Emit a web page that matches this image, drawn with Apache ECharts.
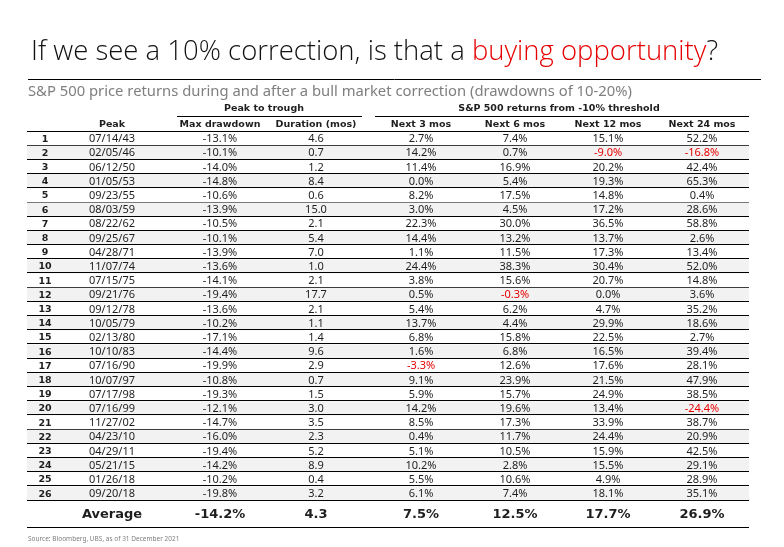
<!DOCTYPE html>
<html lang="en">
<head>
<meta charset="UTF-8">
<title>Buying opportunity</title>
<script src="https://cdn.jsdelivr.net/npm/echarts@6/dist/echarts.min.js"></script>
<style>
  html, body { margin: 0; padding: 0; background: #fff; }
  #container { width: 784px; height: 547px; }
</style>
</head>
<body>
<div id="container"></div>
<script>
var peaks = ['07/14/43', '02/05/46', '06/12/50', '01/05/53', '09/23/55', '08/03/59', '08/22/62', '09/25/67',
  '04/28/71', '11/07/74', '07/15/75', '09/21/76', '09/12/78', '10/05/79', '02/13/80', '10/10/83', '07/16/90',
  '10/07/97', '07/17/98', '07/16/99', '11/27/02', '04/23/10', '04/29/11', '05/21/15', '01/26/18', '09/20/18'];
var maxDrawdown = [-13.1, -10.1, -14.0, -14.8, -10.6, -13.9, -10.5, -10.1, -13.9, -13.6, -14.1, -19.4, -13.6,
  -10.2, -17.1, -14.4, -19.9, -10.8, -19.3, -12.1, -14.7, -16.0, -19.4, -14.2, -10.2, -19.8];
var duration = [4.6, 0.7, 1.2, 8.4, 0.6, 15.0, 2.1, 5.4, 7.0, 1.0, 2.1, 17.7, 2.1, 1.1, 1.4, 9.6, 2.9, 0.7,
  1.5, 3.0, 3.5, 2.3, 5.2, 8.9, 0.4, 3.2];
var next3 = [2.7, 14.2, 11.4, 0.0, 8.2, 3.0, 22.3, 14.4, 1.1, 24.4, 3.8, 0.5, 5.4, 13.7, 6.8, 1.6, -3.3, 9.1,
  5.9, 14.2, 8.5, 0.4, 5.1, 10.2, 5.5, 6.1];
var next6 = [7.4, 0.7, 16.9, 5.4, 17.5, 4.5, 30.0, 13.2, 11.5, 38.3, 15.6, -0.3, 6.2, 4.4, 15.8, 6.8, 12.6, 23.9,
  15.7, 19.6, 17.3, 11.7, 10.5, 2.8, 10.6, 7.4];
var next12 = [15.1, -9.0, 20.2, 19.3, 14.8, 17.2, 36.5, 13.7, 17.3, 30.4, 20.7, 0.0, 4.7, 29.9, 22.5, 16.5, 17.6,
  21.5, 24.9, 13.4, 33.9, 24.4, 15.9, 15.5, 4.9, 18.1];
var next24 = [52.2, -16.8, 42.4, 65.3, 0.4, 28.6, 58.8, 2.6, 13.4, 52.0, 14.8, 3.6, 35.2, 18.6, 2.7, 39.4, 28.1,
  47.9, 38.5, -24.4, 38.7, 20.9, 42.5, 29.1, 28.9, 35.1];
var averages = [-14.2, 4.3, 7.5, 12.5, 17.7, 26.9];
var columnNames = ['Peak', 'Max drawdown', 'Duration (mos)', 'Next 3 mos', 'Next 6 mos', 'Next 12 mos', 'Next 24 mos'];
var groupNames = ['Peak to trough', 'S&P 500 returns from -10% threshold'];

// layout: column centres on a pixel-wide value axis
var colX = [45, 112, 220, 316, 421, 515, 608, 702];
var tableLeft = 27, tableRight = 749;
var rowTop = 131.5, rowH = 14.2;
var ink = '#1e1e1e', red = '#e60000', grey = '#7f7f7f';
var numFont = '11px "Noto Sans"';
var boldFont = 'bold 9.5px "DejaVu Sans"';

var rowIds = peaks.map(function (p, i) { return String(i + 1); });

function pct(v) { return v.toFixed(1) + '%'; }

// one item per cell: [column, row], with text and colour kept beside it
var cells = [];
rowIds.forEach(function (id, i) {
  var returns = [next3[i], next6[i], next12[i], next24[i]];
  cells.push({ value: [0, i], text: id, font: boldFont, color: ink });
  cells.push({ value: [1, i], text: peaks[i], font: numFont, color: ink });
  cells.push({ value: [2, i], text: pct(maxDrawdown[i]), font: numFont, color: ink });
  cells.push({ value: [3, i], text: duration[i].toFixed(1), font: numFont, color: ink });
  returns.forEach(function (r, k) {
    cells.push({ value: [4 + k, i], text: pct(r), font: numFont, color: r < 0 ? red : ink });
  });
});

var avgFont = 'bold 13px "DejaVu Sans"';
var avgCells = [{ value: [1, 0], text: 'Average' }];
averages.forEach(function (v, k) {
  avgCells.push({ value: [2 + k, 0], text: k === 1 ? v.toFixed(1) : pct(v) });
});

function crisp(y) { return Math.round(y) + 0.5; }

function textItem(api, item) {
  var pt = api.coord([colX[item.value[0]], item.value[1]]);
  return {
    type: 'text',
    x: pt[0], y: pt[1] + 0.5,
    style: {
      text: item.text, fill: item.color || ink, font: item.font || avgFont,
      align: 'center', verticalAlign: 'middle', textAlign: 'center', textVerticalAlign: 'middle'
    }
  };
}

function bandItem(params, api, striped) {
  var idx = api.value(0);
  var c = api.coord([tableLeft, idx]);
  var right = api.coord([tableRight, idx])[0];
  var h = api.size([0, 1])[1];
  var top = c[1] - h / 2;
  var kids = [];
  if (striped && idx % 2 === 1) {
    kids.push({ type: 'rect', shape: { x: c[0], y: top, width: right - c[0], height: h }, style: { fill: '#f2f2f2' } });
  }
  if (idx === 0) {
    kids.push({ type: 'line', shape: { x1: c[0], y1: crisp(top) - 1, x2: right, y2: crisp(top) - 1 },
      style: { stroke: '#000', lineWidth: 1 } });
  }
  kids.push({ type: 'line', shape: { x1: c[0], y1: crisp(top + h) - 1, x2: right, y2: crisp(top + h) - 1 },
    style: { stroke: '#000', lineWidth: 1 } });
  return { type: 'group', children: kids };
}

var headerGraphics = [
  { type: 'line', shape: { x1: 28, y1: 79.5, x2: 761, y2: 79.5 }, style: { stroke: '#000', lineWidth: 1 } },
  { type: 'text', x: 28, y: 84, style: { text: 'S&P 500 price returns during and after a bull market correction (drawdowns of 10-20%)',
    fill: grey, font: '14.8px "Noto Sans"' } },
  { type: 'text', x: (colX[2] + colX[3]) / 2 - 4, y: 104, style: { text: groupNames[0], fill: ink, font: boldFont, textAlign: 'center', align: 'center' } },
  { type: 'line', shape: { x1: 177, y1: 116.5, x2: 362, y2: 116.5 }, style: { stroke: '#000', lineWidth: 1 } },
  { type: 'text', x: 559, y: 104, style: { text: groupNames[1], fill: ink, font: boldFont, textAlign: 'center', align: 'center' } },
  { type: 'line', shape: { x1: 375, y1: 116.5, x2: 749, y2: 116.5 }, style: { stroke: '#000', lineWidth: 1 } },
  { type: 'text', x: 28, y: 536, style: { text: 'Source: Bloomberg, UBS, as of 31 December 2021', fill: grey, font: '6.5px "Noto Sans"' } }
];
columnNames.forEach(function (name, k) {
  headerGraphics.push({ type: 'text', x: colX[k + 1], y: 119.5,
    style: { text: name, fill: ink, font: boldFont, textAlign: 'center', align: 'center' } });
});

var myChart = echarts.init(document.getElementById('container'));
var option = {
  animation: false,
  title: {
    left: 26, top: 33,
    text: '{a|If we see a 10% correction, is that a }{b|buying opportunity}{a|?}',
    textStyle: {
      rich: {
        a: { fontFamily: 'Open Sans', fontWeight: 300, fontSize: 27.5, color: '#111' },
        b: { fontFamily: 'Open Sans', fontWeight: 300, fontSize: 27.5, color: red }
      }
    }
  },
  grid: [
    { left: 0, right: 0, top: rowTop, height: rowH * rowIds.length },
    { left: 0, right: 0, top: rowTop + rowH * rowIds.length, height: 27 }
  ],
  xAxis: [
    { type: 'value', min: 0, max: 784, show: false, gridIndex: 0 },
    { type: 'value', min: 0, max: 784, show: false, gridIndex: 1 }
  ],
  yAxis: [
    { type: 'category', data: rowIds, inverse: true, show: false, gridIndex: 0 },
    { type: 'category', data: ['Average'], inverse: true, show: false, gridIndex: 1 }
  ],
  graphic: headerGraphics,
  series: [
    {
      type: 'custom', name: 'rows', z: 1, silent: true,
      xAxisIndex: 0, yAxisIndex: 0,
      data: rowIds.map(function (id, i) { return [i]; }),
      encode: { y: 0 },
      renderItem: function (params, api) { return bandItem(params, api, true); }
    },
    {
      type: 'custom', name: 'cells', z: 2, silent: true,
      xAxisIndex: 0, yAxisIndex: 0,
      data: cells,
      renderItem: function (params, api) { return textItem(api, cells[params.dataIndex]); }
    },
    {
      type: 'custom', name: 'averageRow', z: 1, silent: true,
      xAxisIndex: 1, yAxisIndex: 1,
      data: [[0]],
      encode: { y: 0 },
      renderItem: function (params, api) { return bandItem(params, api, false); }
    },
    {
      type: 'custom', name: 'averageCells', z: 2, silent: true,
      xAxisIndex: 1, yAxisIndex: 1,
      data: avgCells,
      renderItem: function (params, api) { return textItem(api, avgCells[params.dataIndex]); }
    }
  ]
};
myChart.setOption(option);
</script>
</body>
</html>
